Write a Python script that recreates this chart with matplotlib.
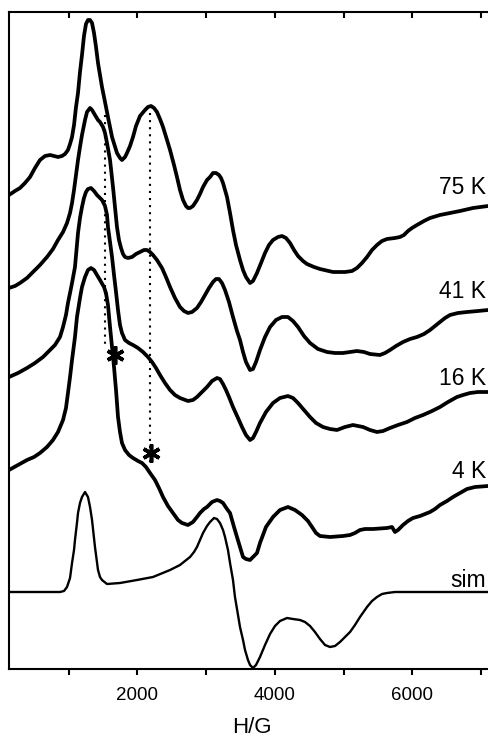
import matplotlib
matplotlib.use("Agg")
import matplotlib.pyplot as plt

plt.rcParams['font.family'] = ['Liberation Sans', 'DejaVu Sans']

# ---------------- data (field H in G, intensity in arbitrary units incl. stacking offset) -------------
x_75K = [131, 218, 291, 364, 437, 509, 582, 655, 728, 786,
         844, 902, 946, 989, 1019, 1048, 1077, 1106, 1135, 1164,
         1193, 1222, 1251, 1280, 1310, 1339, 1368, 1397, 1426, 1455,
         1484, 1528, 1571, 1630, 1702, 1746, 1775, 1819, 1848, 1892,
         1935, 1979, 2037, 2110, 2153, 2197, 2241, 2284, 2328, 2372,
         2430, 2474, 2532, 2575, 2619, 2663, 2706, 2735, 2765, 2808,
         2866, 2910, 2954, 3012, 3056, 3099, 3143, 3186, 3216, 3245,
         3274, 3303, 3347, 3390, 3434, 3492, 3536, 3579, 3638, 3681,
         3739, 3798, 3856, 3914, 3972, 4045, 4103, 4161, 4220, 4278,
         4336, 4409, 4467, 4569, 4656, 4845, 5020, 5122, 5194, 5267,
         5340, 5413, 5485, 5558, 5631, 5747, 5820, 5878, 5936, 5995,
         6067, 6169, 6257, 6402, 6548, 6693, 6882, 7100]
y_75K = [474, 478, 481, 486, 492, 501, 509, 513, 514, 513,
         512, 513, 515, 519, 525, 532, 544, 562, 576, 597,
         614, 633, 645, 649, 649, 646, 636, 622, 606, 594,
         582, 567, 552, 532, 516, 511, 509, 512, 516, 523,
         532, 543, 553, 559, 562, 563, 561, 557, 550, 542,
         529, 519, 504, 492, 479, 469, 463, 461, 461, 463,
         469, 475, 482, 489, 492, 496, 496, 494, 491, 486,
         479, 472, 456, 439, 424, 409, 399, 392, 386, 388,
         396, 406, 416, 424, 429, 432, 433, 431, 426, 419,
         413, 408, 405, 402, 400, 397, 397, 398, 401, 406,
         412, 419, 424, 428, 430, 431, 432, 434, 438, 441,
         444, 448, 451, 454, 456, 458, 461, 463]

x_41K = [131, 218, 291, 393, 480, 582, 684, 771, 844, 917,
         975, 1019, 1048, 1077, 1106, 1135, 1164, 1193, 1237, 1266,
         1310, 1339, 1382, 1426, 1455, 1499, 1528, 1557, 1601, 1644,
         1673, 1702, 1731, 1761, 1790, 1819, 1862, 1921, 1979, 2037,
         2095, 2139, 2183, 2226, 2284, 2357, 2415, 2474, 2546, 2619,
         2677, 2735, 2794, 2866, 2925, 2983, 3041, 3099, 3143, 3186,
         3230, 3274, 3332, 3390, 3448, 3492, 3536, 3579, 3638, 3681,
         3725, 3783, 3856, 3929, 4016, 4103, 4190, 4263, 4336, 4423,
         4511, 4627, 4758, 4874, 4991, 5093, 5194, 5296, 5384, 5529,
         5602, 5675, 5762, 5864, 5966, 6067, 6169, 6257, 6329, 6402,
         6475, 6548, 6664, 6795, 6955, 7100]
y_41K = [381, 383, 386, 391, 397, 404, 412, 420, 429, 437,
         446, 456, 466, 479, 494, 509, 522, 534, 549, 557,
         561, 559, 554, 549, 547, 542, 536, 526, 509, 482,
         462, 442, 429, 421, 415, 412, 411, 412, 415, 417,
         419, 419, 417, 414, 409, 401, 392, 382, 371, 362,
         358, 356, 357, 361, 367, 374, 381, 387, 390, 390,
         386, 379, 367, 352, 338, 329, 317, 307, 299, 300,
         307, 319, 332, 342, 349, 352, 352, 348, 342, 333,
         326, 320, 317, 316, 316, 317, 318, 317, 315, 314,
         316, 319, 323, 327, 330, 332, 335, 339, 343, 347,
         351, 354, 356, 357, 358, 359]

x_16K = [131, 262, 393, 509, 626, 728, 800, 873, 917, 960,
         989, 1019, 1048, 1091, 1135, 1164, 1193, 1222, 1251, 1280,
         1324, 1368, 1411, 1455, 1484, 1528, 1557, 1571, 1601, 1630,
         1659, 1688, 1717, 1746, 1775, 1819, 1877, 1935, 2008, 2081,
         2153, 2212, 2270, 2328, 2401, 2474, 2546, 2619, 2735, 2808,
         2866, 2939, 3012, 3085, 3157, 3201, 3245, 3288, 3332, 3390,
         3463, 3521, 3579, 3638, 3681, 3725, 3783, 3870, 3972, 4074,
         4190, 4263, 4336, 4423, 4511, 4598, 4700, 4802, 4903, 5020,
         5136, 5282, 5384, 5485, 5573, 5675, 5791, 5922, 6038, 6155,
         6286, 6402, 6518, 6649, 6737, 6839, 6955, 7100]
y_16K = [292, 296, 301, 306, 312, 319, 324, 332, 342, 354,
         366, 376, 386, 402, 436, 451, 462, 471, 477, 480,
         481, 478, 474, 471, 469, 463, 454, 442, 427, 412,
         394, 377, 359, 344, 336, 329, 326, 324, 321, 317,
         312, 307, 301, 294, 286, 279, 274, 271, 268, 269,
         272, 277, 282, 288, 291, 290, 285, 279, 272, 262,
         251, 242, 234, 229, 231, 237, 246, 257, 266, 271,
         273, 271, 266, 259, 252, 246, 242, 240, 239, 242,
         244, 242, 239, 237, 238, 241, 244, 247, 251, 254,
         258, 262, 267, 272, 274, 276, 277, 277]

x_4K = [131, 262, 393, 495, 582, 684, 771, 844, 917, 960,
        989, 1019, 1048, 1091, 1120, 1164, 1193, 1237, 1280, 1324,
        1368, 1411, 1455, 1513, 1542, 1571, 1601, 1630, 1659, 1688,
        1717, 1746, 1775, 1819, 1877, 1935, 2008, 2066, 2124, 2183,
        2255, 2313, 2372, 2444, 2517, 2590, 2648, 2735, 2808, 2866,
        2910, 2968, 3012, 3085, 3157, 3201, 3245, 3303, 3347, 3405,
        3448, 3492, 3536, 3579, 3638, 3696, 3739, 3783, 3870, 3972,
        4074, 4190, 4292, 4394, 4481, 4540, 4598, 4656, 4802, 4991,
        5093, 5165, 5238, 5311, 5427, 5631, 5704, 5747, 5791, 5864,
        5936, 6009, 6111, 6257, 6329, 6402, 6504, 6591, 6693, 6795,
        6911, 7100]
y_4K = [199, 204, 209, 212, 216, 222, 229, 237, 249, 261,
        276, 292, 309, 332, 352, 371, 382, 392, 399, 401,
        399, 394, 389, 382, 376, 364, 342, 322, 302, 279,
        252, 237, 226, 219, 214, 211, 208, 206, 202, 196,
        189, 181, 172, 163, 156, 149, 146, 144, 147, 152,
        156, 160, 162, 167, 169, 168, 166, 160, 156, 142,
        132, 122, 112, 110, 109, 113, 116, 126, 142, 152,
        159, 162, 159, 154, 148, 142, 136, 133, 132, 133,
        134, 136, 139, 140, 140, 141, 142, 137, 139, 144,
        148, 151, 153, 157, 160, 164, 168, 172, 176, 180,
        182, 183]

x_sim = [131, 873, 931, 975, 1019, 1048, 1077, 1091, 1120, 1135,
         1164, 1193, 1237, 1280, 1310, 1339, 1382, 1426, 1455, 1484,
         1557, 1746, 1993, 2226, 2474, 2619, 2692, 2765, 2823, 2866,
         2910, 2954, 3012, 3056, 3114, 3157, 3201, 3245, 3274, 3317,
         3347, 3390, 3419, 3463, 3492, 3536, 3565, 3608, 3638, 3681,
         3725, 3783, 3856, 3929, 4001, 4074, 4176, 4263, 4365, 4438,
         4511, 4583, 4656, 4729, 4802, 4874, 4947, 5020, 5093, 5165,
         5238, 5340, 5413, 5485, 5558, 5631, 5747, 7100]
y_sim = [77, 77, 78, 82, 91, 106, 119, 129, 146, 156,
         166, 172, 177, 172, 162, 149, 122, 99, 92, 89,
         85, 86, 89, 92, 99, 104, 108, 112, 117, 122,
         129, 136, 143, 147, 151, 150, 146, 139, 132, 119,
         106, 89, 72, 54, 42, 29, 19, 9, 4, 1,
         4, 12, 24, 35, 43, 48, 51, 50, 49, 47,
         43, 37, 30, 24, 22, 23, 27, 32, 37, 44,
         52, 62, 68, 72, 75, 76, 77, 77]

labels = ["75 K", "41 K", "16 K", "4 K", "sim"]
label_y = [475, 371, 284, 191, 82]

# dotted guide lines (field, top, bottom) and asterisk positions
guide_x = [1528, 2183]
guide_top = [554, 556]
guide_bottom = [322, 202]
star_x = [1673, 2197]
star_y = [314, 216]

major_ticks = [2000, 4000, 6000]
minor_ticks = [1000, 3000, 5000, 7000]

# ---------------- figure ----------------
fig = plt.figure(figsize=(4.88, 7.38), dpi=100)
W, H = 488.0, 738.0
x0, x1 = 131, 7200
ax = fig.add_axes([9 / W, (H - 669) / H, (x1 - x0) / 14.55 / W, (669 - 12) / H])
ax.set_xlim(x0, x1)
ax.set_ylim(0, 657)

for xs, ys in [(x_75K, y_75K), (x_41K, y_41K), (x_16K, y_16K), (x_4K, y_4K)]:
    ax.plot(xs, ys, color='black', lw=2.7, solid_joinstyle='round', solid_capstyle='round')
ax.plot(x_sim, y_sim, color='black', lw=1.7, solid_joinstyle='round')

for gx, gt, gb in zip(guide_x, guide_top, guide_bottom):
    ax.plot([gx, gx], [gt, gb], color='black', lw=1.5, linestyle=(0, (1, 2.4)))

ax.plot(star_x, star_y, linestyle='none', marker=(6, 2, 0), markersize=13,
        markeredgewidth=2.6, color='black')

for lab, ly in zip(labels, label_y):
    ax.text(7070, ly, lab, ha='right', va='baseline', fontsize=16.5)

for s in ['left', 'bottom', 'top', 'right']:
    ax.spines[s].set_linewidth(1.5)

ax.set_xticks(major_ticks)
ax.set_xticks(minor_ticks, minor=True)
ax.set_xticklabels([str(t) for t in major_ticks])
ax.tick_params(axis='x', which='both', direction='out', length=4, width=1.5,
               labelsize=13.5, pad=9)
ax.set_yticks([])
ax.set_xlabel("H/G", fontsize=16, labelpad=9)

top = ax.secondary_xaxis('top')
top.set_xticks(major_ticks)
top.set_xticks(minor_ticks, minor=True)
top.tick_params(axis='x', which='both', direction='in', length=4, width=1.5,
                labeltop=False)
top.set_xticklabels([])
top.spines['top'].set_visible(False)

fig.savefig("out.png", dpi=100)
